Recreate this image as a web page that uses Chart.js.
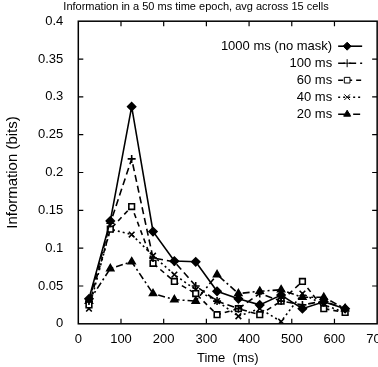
<!DOCTYPE html>
<html>
<head>
<meta charset="utf-8">
<script src="https://cdn.jsdelivr.net/npm/chart.js@4/dist/chart.umd.min.js"></script>
<style>
  html, body { margin: 0; padding: 0; background: #fff; overflow: hidden; }
  #wrap { width: 388px; height: 367px; }
</style>
</head>
<body>
<div id="wrap"><canvas id="infoChart"></canvas></div>
<script>
// time bins (ms), centre of each 50 ms epoch
var times = [25, 75, 125, 175, 225, 275, 325, 375, 425, 475, 525, 575, 625];

var info1000 = [0.033, 0.136, 0.287, 0.122, 0.083, 0.082, 0.043, 0.033, 0.025, 0.038, 0.020, 0.029, 0.020];
var info100  = [0.030, 0.133, 0.218, 0.087, 0.082, 0.050, 0.030, 0.020, 0.040, 0.030, 0.025, 0.030, 0.020];
var info60   = [0.025, 0.125, 0.155, 0.080, 0.056, 0.040, 0.012, 0.020, 0.012, 0.030, 0.056, 0.020, 0.015];
var info40   = [0.020, 0.125, 0.118, 0.090, 0.065, 0.045, 0.030, 0.010, 0.020, 0.003, 0.040, 0.025, 0.015];
var info20   = [0.030, 0.073, 0.082, 0.040, 0.032, 0.030, 0.065, 0.040, 0.043, 0.045, 0.035, 0.035, 0.020];

var xTicks = [0, 100, 200, 300, 400, 500, 600, 700];
var yTicks = [0, 0.05, 0.1, 0.15, 0.2, 0.25, 0.3, 0.35, 0.4];

var FONT = "'Liberation Sans', Arial, sans-serif";

function pts(vals) {
    return vals.map(function (v, i) { return { x: times[i], y: v }; });
}

function series(label, vals, dash, style, fill) {
    return {
        label: label,
        data: pts(vals),
        borderColor: '#000',
        backgroundColor: fill,
        borderWidth: 1.6,
        borderDash: dash,
        pointStyle: style,
        pointRadius: 4,
        pointBorderWidth: 1.6,
        pointBorderColor: '#000',
        pointBackgroundColor: fill,
        tension: 0
    };
}

// box round the plot with ticks pointing inward on all four sides
var boxTicks = {
    id: 'boxTicks',
    afterDraw: function (chart) {
        var c = chart.ctx, a = chart.chartArea;
        var sx = chart.scales.x, sy = chart.scales.y;
        c.save();
        c.strokeStyle = '#000';
        c.lineWidth = 1.5;
        c.strokeRect(a.left, a.top, a.right - a.left, a.bottom - a.top);
        c.lineWidth = 1.2;
        c.beginPath();
        xTicks.slice(1, -1).forEach(function (t) {
            var px = sx.getPixelForValue(t);
            c.moveTo(px, a.bottom); c.lineTo(px, a.bottom - 5);
            c.moveTo(px, a.top); c.lineTo(px, a.top + 5);
        });
        yTicks.slice(1, -1).forEach(function (t) {
            var py = sy.getPixelForValue(t);
            c.moveTo(a.left, py); c.lineTo(a.left + 5, py);
            c.moveTo(a.right, py); c.lineTo(a.right - 5, py);
        });
        c.stroke();
        c.restore();
    }
};

// legend inside the top right of the plot
var innerLegend = {
    id: 'innerLegend',
    afterDraw: function (chart) {
        var c = chart.ctx, a = chart.chartArea;
        var tx = a.right - 45, y0 = a.top + 25, step = 17;
        c.save();
        c.font = '13px ' + FONT;
        c.fillStyle = '#000';
        c.textAlign = 'right';
        c.textBaseline = 'middle';
        chart.data.datasets.forEach(function (ds, i) {
            var y = y0 + i * step;
            c.fillText(ds.label, tx, y);
            c.save();
            c.strokeStyle = '#000';
            c.lineWidth = ds.borderWidth;
            c.setLineDash(ds.borderDash);
            c.beginPath();
            c.moveTo(tx + 6, y); c.lineTo(tx + 30, y);
            c.stroke();
            c.restore();
            c.fillStyle = ds.pointBackgroundColor;
            Chart.helpers.drawPoint(c, {
                pointStyle: ds.pointStyle, radius: 4, borderWidth: 1.6, rotation: 0
            }, tx + 15, y);
            c.fillStyle = '#000';
        });
        c.restore();
    }
};

Chart.defaults.font.family = FONT;
Chart.defaults.color = '#000';

var ctx = document.getElementById('infoChart').getContext('2d');
var infoChart = new Chart(ctx, {
    type: 'line',
    data: {
        datasets: [
            series('1000 ms (no mask)', info1000, [], 'rectRot', '#000'),
            series('100 ms', info100, [7, 4], 'cross', '#000'),
            series('60 ms', info60, [5, 4], 'rect', '#fff'),
            series('40 ms', info40, [2, 3], 'crossRot', '#000'),
            series('20 ms', info20, [7, 3, 2, 3], 'triangle', '#000')
        ]
    },
    options: {
        responsive: true,
        maintainAspectRatio: false,
        animation: false,
        layout: { padding: { left: 4, right: 0, top: 0, bottom: 1 } },
        plugins: {
            legend: { display: false },
            tooltip: { enabled: false },
            title: {
                display: true,
                text: 'Information in a 50 ms time epoch, avg across 15 cells',
                font: { size: 11, weight: 'normal' },
                padding: { top: 0, bottom: 8 }
            }
        },
        scales: {
            x: {
                type: 'linear',
                min: 0,
                max: 700,
                afterBuildTicks: function (s) { s.ticks = xTicks.map(function (v) { return { value: v }; }); },
                ticks: {
                    font: { size: 13 },
                    padding: 0,
                    maxRotation: 0,
                    callback: function (v) { return String(v); }
                },
                grid: { display: false },
                border: { display: false },
                title: { display: true, text: 'Time  (ms)', font: { size: 13 }, padding: { top: 3, bottom: 0 } }
            },
            y: {
                min: 0,
                max: 0.4,
                afterBuildTicks: function (s) { s.ticks = yTicks.map(function (v) { return { value: v }; }); },
                ticks: {
                    font: { size: 13 },
                    padding: 7,
                    callback: function (v) { return String(+v.toFixed(2)); }
                },
                grid: { display: false },
                border: { display: false },
                title: { display: true, text: 'Information (bits)', font: { size: 15 }, padding: { top: 0, bottom: 9 } }
            }
        }
    },
    plugins: [boxTicks, innerLegend]
});
</script>
</body>
</html>
